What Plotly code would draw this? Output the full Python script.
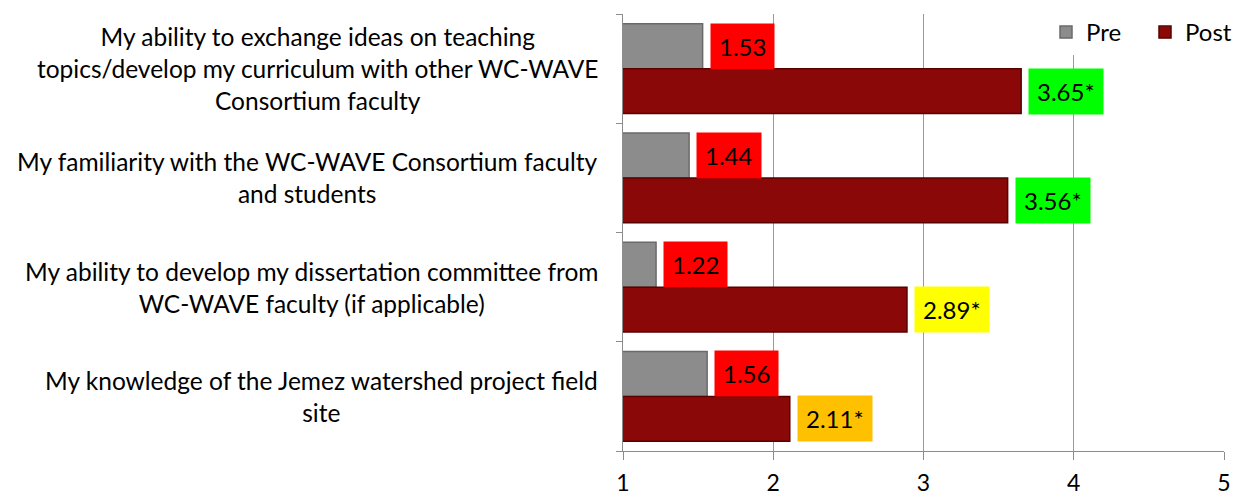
import plotly.graph_objects as go

categories = [
    'My ability to exchange ideas on teaching<br>topics/develop my curriculum with other WC-WAVE<br>Consortium faculty',
    'My familiarity with the WC-WAVE Consortium faculty<br>and students',
    'My ability to develop my dissertation committee from<br>WC-WAVE faculty (if applicable)',
    'My knowledge of the Jemez watershed project field<br>site',
]
pre = [1.53, 1.44, 1.22, 1.56]
post = [3.65, 3.56, 2.89, 2.11]
post_labels = ['3.65*', '3.56*', '2.89*', '2.11*']
post_label_colors = ['#00FF00', '#00FF00', '#FFFF00', '#FFC000']
pre_label_color = '#FF0000'

FONT = 'Lato'
BARGAP = 0.18
off = (1 - BARGAP) / 4

fig = go.Figure()
fig.add_trace(go.Bar(
    y=list(range(len(categories))), x=pre, name='Pre', orientation='h',
    marker=dict(color='#8C8C8C', line=dict(color='#6A6A6A', width=1.5)),
))
fig.add_trace(go.Bar(
    y=list(range(len(categories))), x=post, name='Post', orientation='h',
    marker=dict(color='#8A0808', line=dict(color='#5A0000', width=1.5)),
))

annotations = []
for i, cat in enumerate(categories):
    annotations.append(dict(
        xref='paper', yref='y', x=-0.037, y=i, text=cat, showarrow=False,
        xanchor='right', yanchor='middle', align='center',
        font=dict(family=FONT, size=24.5, color='black'),
    ))
    annotations.append(dict(
        xref='x', yref='y', x=pre[i], y=i - off, text=f'{pre[i]:.2f}', showarrow=False,
        xanchor='left', yanchor='middle', xshift=7, bgcolor=pre_label_color, borderpad=8,
        font=dict(family=FONT, size=24, color='black'),
    ))
    annotations.append(dict(
        xref='x', yref='y', x=post[i], y=i + off, text=post_labels[i], showarrow=False,
        xanchor='left', yanchor='middle', xshift=7, bgcolor=post_label_colors[i], borderpad=8,
        font=dict(family=FONT, size=24, color='black'),
    ))

fig.update_layout(
    width=1244, height=495,
    margin=dict(l=623, r=0, t=10, b=44),
    barmode='group', bargap=BARGAP, bargroupgap=0,
    plot_bgcolor='white', paper_bgcolor='white',
    font=dict(family=FONT, size=23, color='black'),
    annotations=annotations,
    showlegend=True,
    legend=dict(orientation='h', x=1, xanchor='right', y=1, yanchor='top',
                bgcolor='white', font=dict(size=24), traceorder='normal',
                entrywidth=54, itemwidth=30),
)
fig.update_xaxes(
    domain=[0, 601 / 621], automargin=False,
    range=[1, 5], tickvals=[1, 2, 3, 4, 5], showgrid=True, gridcolor='#9A9A9A', gridwidth=1,
    showline=True, linecolor='#8C8C8C', ticks='outside', ticklen=8, tickcolor='#8C8C8C',
    ticklabelstandoff=3, zeroline=False,
)
fig.update_yaxes(
    domain=[0, 437 / 441], automargin=False,
    range=[3.5, -0.5], tickvals=[-0.5, 0.5, 1.5, 2.5, 3.5], showticklabels=False,
    showgrid=False, showline=True, linecolor='#8C8C8C', ticks='outside', ticklen=6,
    tickcolor='#8C8C8C', zeroline=False,
)

fig.write_html('out.html', config={'displayModeBar': False},
               post_script="document.body.style.margin='0';")
